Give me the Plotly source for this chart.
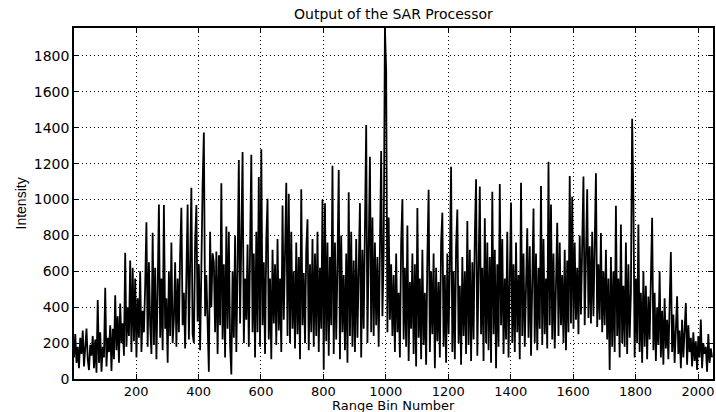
import plotly.graph_objects as go

# Range bins sampled every 4 bins (1, 5, 9, ... 2045)
bin_first = 1
bin_step = 4

# Intensity values, 16 values per 64-bin block
intensity_blocks = [
    [120, 250, 90, 180, 60, 230, 140, 270, 70, 200, 281, 110, 50, 190, 130, 240],
    [60, 220, 35, 440, 90, 260, 40, 180, 120, 508, 70, 230, 150, 300, 45, 280],
    [110, 467, 160, 350, 90, 420, 200, 310, 130, 703, 180, 400, 240, 660, 150, 620],
    [210, 560, 120, 450, 230, 600, 150, 380, 260, 520, 874, 180, 650, 300, 140, 815],
    [190, 620, 110, 500, 973, 230, 560, 160, 970, 280, 450, 90, 600, 240, 760, 200],
    [330, 650, 180, 560, 260, 700, 954, 300, 480, 170, 620, 973, 220, 680, 1066, 250],
    [200, 760, 970, 320, 640, 160, 700, 1080, 1373, 350, 580, 230, 40, 820, 400, 700],
    [650, 260, 710, 140, 690, 300, 1091, 220, 640, 120, 850, 280, 820, 190, 25, 600],
    [230, 800, 150, 620, 1221, 310, 700, 1265, 200, 560, 330, 750, 180, 680, 1249, 260],
    [700, 120, 820, 260, 1126, 180, 1280, 300, 650, 140, 780, 1004, 220, 560, 110, 720],
    [310, 640, 190, 780, 270, 560, 150, 967, 330, 700, 1094, 240, 1032, 200, 820, 280],
    [600, 170, 760, 250, 680, 110, 1057, 300, 590, 200, 720, 890, 160, 640, 260, 780],
    [180, 700, 240, 820, 150, 620, 280, 1000, 52, 980, 210, 760, 130, 680, 300, 1189],
    [140, 760, 220, 640, 1165, 110, 800, 260, 580, 160, 700, 90, 1040, 240, 820, 180],
    [660, 150, 780, 230, 600, 980, 120, 720, 280, 840, 1415, 200, 680, 1239, 260, 900],
    [240, 760, 300, 680, 180, 820, 1270, 350, 700, 1956, 1720, 260, 900, 330, 640, 240],
    [580, 150, 700, 260, 480, 120, 760, 1003, 220, 620, 180, 855, 100, 540, 280, 700],
    [140, 640, 70, 953, 230, 560, 110, 720, 190, 480, 80, 680, 1054, 150, 600, 250],
    [700, 60, 620, 210, 540, 120, 760, 927, 180, 580, 90, 700, 250, 640, 1183, 150],
    [600, 110, 740, 945, 200, 520, 80, 680, 240, 600, 140, 880, 190, 720, 100, 650],
    [220, 800, 1113, 130, 700, 1072, 250, 620, 100, 896, 200, 760, 160, 680, 90, 1044],
    [250, 720, 60, 640, 180, 1087, 300, 780, 140, 560, 220, 820, 120, 700, 983, 200],
    [640, 150, 760, 260, 580, 110, 1094, 240, 700, 180, 620, 840, 230, 740, 130, 680],
    [950, 200, 700, 160, 620, 280, 1076, 190, 780, 250, 560, 170, 1211, 300, 972, 220],
    [700, 170, 640, 870, 240, 760, 300, 580, 200, 720, 160, 660, 260, 1131, 310, 1016],
    [280, 760, 330, 620, 250, 800, 360, 700, 1128, 300, 680, 1057, 340, 740, 310, 820],
    [350, 700, 1146, 290, 640, 330, 813, 260, 600, 300, 720, 220, 560, 50, 680, 180],
    [600, 150, 966, 240, 560, 120, 861, 200, 520, 180, 760, 140, 640, 230, 480, 1450],
    [1000, 120, 560, 200, 861, 150, 480, 90, 600, 180, 520, 110, 460, 220, 560, 898],
    [160, 480, 100, 400, 190, 600, 120, 380, 80, 450, 170, 330, 110, 420, 707, 150],
    [360, 90, 300, 461, 140, 270, 60, 330, 120, 250, 424, 80, 300, 150, 230, 70],
    [260, 100, 210, 50, 240, 120, 331, 60, 200, 140, 180, 40, 250, 90, 170, 120],
]

x_ticks = [200, 400, 600, 800, 1000, 1200, 1400, 1600, 1800, 2000]
y_ticks = [0, 200, 400, 600, 800, 1000, 1200, 1400, 1600, 1800]

title_text = "Output of the SAR Processor"
x_title = "Range Bin Number"
y_title = "Intensity"

intensity = [v for block in intensity_blocks for v in block]
bins = [bin_first + bin_step * i for i in range(len(intensity))]

fig = go.Figure()
fig.add_trace(go.Scatter(x=bins, y=intensity, mode="lines",
                         line=dict(color="black", width=1.8),
                         hoverinfo="skip", showlegend=False))

axis_common = dict(showline=True, linecolor="black", linewidth=1.5, mirror="ticks",
                   ticks="inside", ticklen=5, tickwidth=1, tickcolor="black",
                   showgrid=True, gridcolor="black", gridwidth=1, griddash="1px,3px",
                   zeroline=False)

fig.update_xaxes(range=[1, 2048], tickvals=x_ticks,
                 tickfont=dict(family="DejaVu Sans", size=13, color="black"), **axis_common)
fig.update_yaxes(range=[0, 1956], tickvals=y_ticks,
                 tickfont=dict(family="DejaVu Sans", size=14, color="black"), **axis_common)

fig.update_layout(
    width=716, height=412,
    margin=dict(l=74, r=1, t=28, b=33),
    paper_bgcolor="white", plot_bgcolor="white",
    annotations=[
        dict(text=title_text, x=0.5, y=1, xref="paper", yref="paper",
             xanchor="center", yanchor="bottom", yshift=4, showarrow=False,
             font=dict(family="DejaVu Sans", size=14, color="black")),
        dict(text=x_title, x=0.5, y=0, xref="paper", yref="paper",
             xanchor="center", yanchor="top", yshift=-17, showarrow=False,
             font=dict(family="DejaVu Sans", size=13, color="black")),
        dict(text=y_title, x=0, y=0.5, xref="paper", yref="paper",
             xanchor="right", yanchor="middle", xshift=-44, textangle=-90,
             showarrow=False,
             font=dict(family="Liberation Sans Narrow, Liberation Sans", size=14, color="black")),
    ],
)

fig.write_html("out.html")
